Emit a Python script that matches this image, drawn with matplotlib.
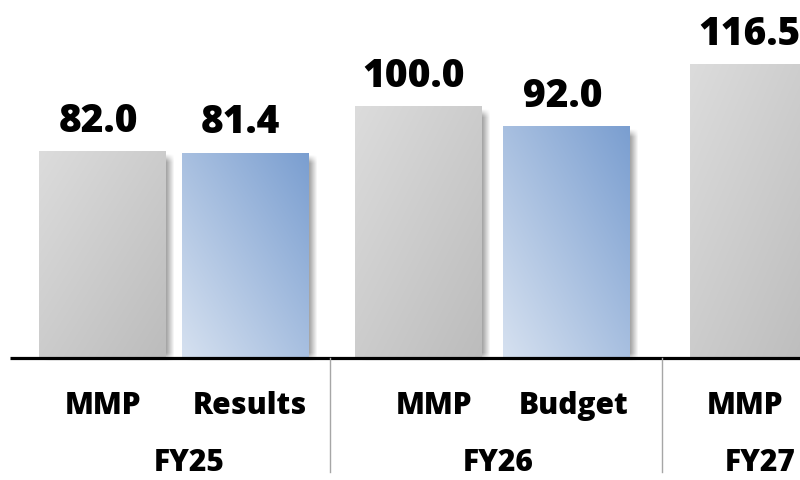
import numpy as np
import matplotlib
matplotlib.use('Agg')
import matplotlib.pyplot as plt
from matplotlib.colors import to_rgb

# ---------------- data ----------------
groups = ['FY25', 'FY26', 'FY27']
bar_labels = ['MMP', 'Results', 'MMP', 'Budget', 'MMP']
values = [82.0, 81.4, 100.0, 92.0, 116.5]
kinds = ['plan', 'actual', 'plan', 'actual', 'plan']

# ---------------- layout ----------------
W, H = 800, 480
base_px = 358            # baseline from top (pixels)
px_per_unit = 2.52
x_pos = [102.5, 245, 418, 566.5, 753.5]
bar_w = 127
label_x = [103, 250, 434, 574, 745]
group_x = [189, 498, 760]
sep_x = [330, 662]

FONT = ['Open Sans', 'DejaVu Sans']
plt.rcParams['font.family'] = FONT

fig = plt.figure(figsize=(W / 100, H / 100), dpi=100)
ax = fig.add_axes([0, 0, 1, 1])
ax.set_xlim(0, W)
ybot = -(H - base_px) / px_per_unit
ytop = base_px / px_per_unit
ax.set_ylim(ybot, ytop)
ax.axis('off')

grad = {
    'plan': (to_rgb('#dcdcdc'), to_rgb('#bcbcbc')),
    'actual': (to_rgb('#d6e1f0'), to_rgb('#7a9ed0')),
}

bars = ax.bar(x_pos, values, width=bar_w, color='none', zorder=3)

n = 200
yy, xx = np.mgrid[0:1:n * 1j, 0:1:n * 1j]
for rect, v, k in zip(bars, values, kinds):
    x0 = rect.get_x()
    x1 = x0 + rect.get_width()
    # soft shadow
    sx0, sx1 = x0 - 2, x1 + 9
    sy0, sy1 = -4 / px_per_unit, v - 2 / px_per_unit
    m = 120
    gy, gx = np.mgrid[0:1:m * 1j, 0:1:m * 1j]
    wx = (sx1 - sx0)
    hy = (sy1 - sy0) * px_per_unit
    dx = np.minimum(gx * wx, (1 - gx) * wx)
    dy = np.minimum(gy * hy, (1 - gy) * hy)
    a = np.clip(dx / 8, 0, 1) * np.clip(dy / 8, 0, 1)
    sh = np.zeros((m, m, 4))
    sh[..., 3] = 0.35 * a
    ax.imshow(sh, extent=(sx0 + 5, sx1, sy0, sy1), origin='lower',
              aspect='auto', zorder=2, interpolation='bilinear')
    # gradient fill
    c0, c1 = grad[k]
    if k == 'plan':
        t = (xx + (1 - yy)) / 2
    else:
        t = (xx + yy) / 2
    t = np.clip(t, 0, 1)
    img = np.zeros((n, n, 3))
    for i in range(3):
        img[..., i] = c0[i] + (c1[i] - c0[i]) * t
    im = ax.imshow(img, extent=(x0, x1, 0, v), origin='lower', aspect='auto',
                   zorder=3, interpolation='bilinear')
    im.set_clip_path(rect)
    ax.annotate(f'{v:.1f}', (rect.get_x() + bar_w / 2, v), xytext=(-3, 14),
                textcoords='offset points', ha='center', va='baseline',
                fontsize=28, fontweight='heavy', color='black', zorder=5)

ax.set_xlim(0, W)
ax.set_ylim(ybot, ytop)

# axis baseline
ax.plot([10, W], [0, 0], color='black', lw=2.3, zorder=4, solid_capstyle='butt')
for sx in sep_x:
    ax.plot([sx, sx], [0, -114 / px_per_unit], color='#a6a6a6', lw=1.0, zorder=4)

for lx, lab in zip(label_x, bar_labels):
    ax.text(lx, -48 / px_per_unit, lab, ha='center', va='center',
            fontsize=21.5, fontweight='heavy', color='black')
for gx_, g in zip(group_x, groups):
    ax.text(gx_, -105 / px_per_unit, g, ha='center', va='center',
            fontsize=21.5, fontweight='heavy', color='black')

fig.savefig('out.png', dpi=100)
